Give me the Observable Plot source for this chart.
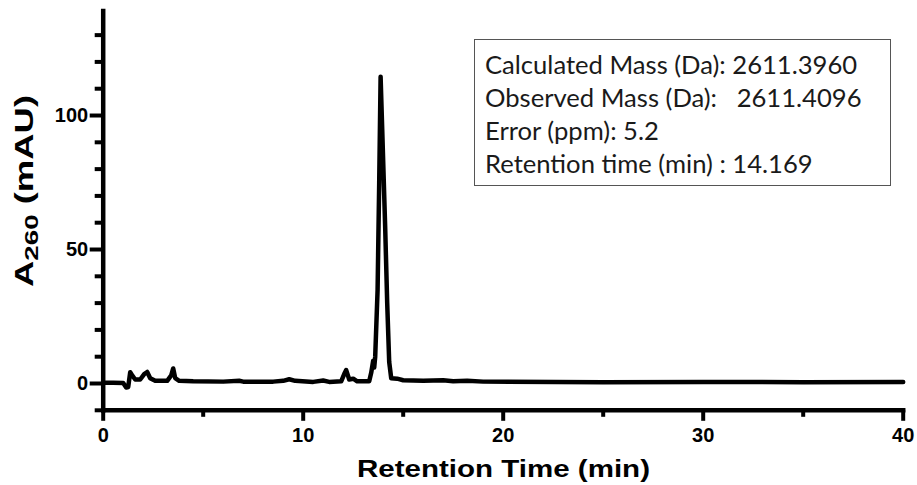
<!DOCTYPE html>
<html>
<head>
<meta charset="utf-8">
<script src="https://cdn.jsdelivr.net/npm/d3@7"></script>
<script src="https://cdn.jsdelivr.net/npm/@observablehq/plot@0.6"></script>
<style>
  html, body { margin: 0; padding: 0; background: #fff; }
  #wrap { position: relative; width: 917px; height: 485px; overflow: hidden; }
  #box {
    position: absolute; left: 474px; top: 39px; width: 417px; height: 147px;
    border: 1.5px solid #555; background: #fff;
    font-family: Lato, "Open Sans", sans-serif; font-size: 25.6px; line-height: 33px;
    color: #1a1a1a; padding: 8px 0 0 10px; box-sizing: border-box; white-space: pre;
  }
</style>
</head>
<body>
<div id="wrap"></div>
<script>
// ---- data ----
const times = [0, 0.5, 1.0, 1.15, 1.25, 1.35, 1.45, 1.6, 1.85, 2.05, 2.2, 2.35, 2.6, 3.2, 3.4, 3.5, 3.6, 3.8,
  4.5, 6.0, 6.8, 7.0, 8.5, 9.0, 9.3, 9.6, 10.5, 11.0, 11.3, 11.9, 12.05, 12.15, 12.3, 12.5, 12.7, 13.3,
  13.4, 13.5, 13.55, 13.6, 13.72, 13.8, 13.87, 13.95, 14.1, 14.2, 14.3, 14.4, 14.7, 15.0, 16.0, 17.0,
  17.5, 18.2, 19.0, 25.0, 30.0, 35.0, 40.0];
const absorbance = [0.3, 0.3, 0.2, -1.5, -1.3, 4.2, 3.0, 1.5, 1.5, 3.5, 4.3, 2.0, 1.0, 1.0, 3.0, 5.6, 2.0, 1.0,
  0.8, 0.7, 1.0, 0.7, 0.7, 1.0, 1.6, 1.0, 0.6, 1.1, 0.6, 0.8, 3.5, 5.0, 1.5, 1.8, 0.8, 0.8,
  4.0, 8.5, 6.0, 10.0, 35.0, 75.0, 114.5, 95.0, 58.0, 30.0, 8.0, 2.0, 1.8, 1.2, 1.0, 1.2,
  0.8, 1.0, 0.7, 0.5, 0.6, 0.5, 0.6];

const xMajor = [0, 10, 20, 30, 40];
const xMinor = [5, 15, 25, 35];
const yMajor = [0, 50, 100];
const yMinor = [-10, 10, 20, 30, 40, 60, 70, 80, 90, 110, 120, 130];
const xDomain = [0, 40];
const yDomain = [-10, 139];

const xTitle = "Retention Time (min)";
const yTitleMain = "A";
const yTitleSub = "260";
const yTitleRest = " (mAU)";
const infoLines = [
  "Calculated Mass (Da): 2611.3960",
  "Observed Mass (Da):   2611.4096",
  "Error (ppm): 5.2",
  "Retention time (min) : 14.169"
];

const data = times.map((t, i) => ({t, a: absorbance[i]}));
const xAxisLine = xDomain.map(x => ({t: x, a: yDomain[0]}));
const yAxisLine = yDomain.map(y => ({t: xDomain[0], a: y}));

const chart = Plot.plot({
  width: 917,
  height: 485,
  marginLeft: 102.7,
  marginRight: 14.3,
  marginTop: 10.5,
  marginBottom: 75.2,
  x: {domain: xDomain},
  y: {domain: yDomain},
  style: {fontFamily: "'Liberation Sans', Arial, sans-serif", color: "black", background: "white", overflow: "visible"},
  marks: [
    Plot.axisX({ticks: xMinor, tickSize: 7, stroke: "black", strokeWidth: 4, tickFormat: () => "", label: null}),
    Plot.axisX({ticks: xMajor, tickSize: 11, tickPadding: 6, stroke: "black", strokeWidth: 4, fontSize: 20, fontWeight: "bold", label: null}),
    Plot.axisY({ticks: yMinor, tickSize: 8, stroke: "black", strokeWidth: 4, tickFormat: () => "", label: null}),
    Plot.axisY({ticks: yMajor, tickSize: 13, tickPadding: 2, stroke: "black", strokeWidth: 4, fontSize: 20, fontWeight: "bold", label: null}),
    Plot.line(xAxisLine, {x: "t", y: "a", stroke: "black", strokeWidth: 4.5, strokeLinecap: "square"}),
    Plot.line(yAxisLine, {x: "t", y: "a", stroke: "black", strokeWidth: 4.5, strokeLinecap: "square"}),
    Plot.line(data, {x: "t", y: "a", stroke: "black", strokeWidth: 4.5, strokeLinejoin: "round", strokeLinecap: "round"})
  ]
});

const wrap = document.getElementById("wrap");
wrap.appendChild(chart);

const svg = d3.select(chart);
svg.selectAll("text").filter(function() {
  const l = (this.parentNode && this.parentNode.getAttribute("aria-label")) || "";
  return l.endsWith("tick label");
}).attr("font-weight", "bold");

// x-axis title
svg.append("text")
  .attr("x", 503.5).attr("y", 477)
  .attr("text-anchor", "middle")
  .attr("font-family", "'Liberation Sans', Arial, sans-serif")
  .attr("font-weight", "bold").attr("font-size", 23.5)
  .attr("textLength", 293).attr("lengthAdjust", "spacingAndGlyphs")
  .attr("fill", "black")
  .text(xTitle);

// y-axis title with subscript
const yt = svg.append("text")
  .attr("transform", "translate(33,191) rotate(-90)")
  .attr("text-anchor", "middle")
  .attr("font-family", "'Liberation Sans', Arial, sans-serif")
  .attr("font-weight", "bold").attr("font-size", 25)
  .attr("textLength", 192).attr("lengthAdjust", "spacingAndGlyphs")
  .attr("fill", "black");
yt.append("tspan").text(yTitleMain);
yt.append("tspan").attr("font-size", 19).attr("dy", 5).text(yTitleSub);
yt.append("tspan").attr("dy", -5).text(yTitleRest);

// annotation box
const box = document.createElement("div");
box.id = "box";
box.textContent = infoLines.join("\n");
wrap.appendChild(box);
</script>
</body>
</html>
